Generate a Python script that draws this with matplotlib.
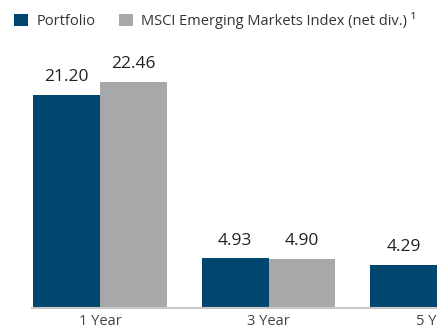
import numpy as np
import matplotlib
matplotlib.use("Agg")
import matplotlib.pyplot as plt
from matplotlib.patches import Patch

# ================> Data
periods = ["1 Year", "3 Year", "5 Year"]
portfolio = [21.20, 4.93, 4.29]
index_net = [22.46, 4.90, np.nan]  # 5 Year index value runs off the right edge

series_names = ["Portfolio", "MSCI Emerging Markets Index (net div.) \u00b9"]
colors = ["#00466F", "#A7A8AA"]

plt.rcParams["font.family"] = ["Open Sans", "DejaVu Sans"]

W, H = 437, 331
fig = plt.figure(figsize=(W / 100, H / 100), dpi=100)

# axes placed in pixels: baseline at y=308, left edge at x=32
left, right, bottom, top = 32, 437, 308, 50
ax = fig.add_axes([left / W, (H - bottom) / H, (right - left) / W, (bottom - top) / H])

x = np.arange(len(periods))
width = 0.396
for i, (vals, col) in enumerate(zip([portfolio, index_net], colors)):
    pos = x + (i - 0.5) * width
    ax.bar(pos, vals, width=width, color=col, align="center", linewidth=0)
    for p, v in zip(pos, vals):
        if np.isnan(v):
            continue
        ax.annotate(f"{v:.2f}", (p, v), xytext=(0, 10), textcoords="offset points",
                    ha="center", va="baseline", fontsize=12.5, color="#222222")

# group centres are 173 px apart, first one at x=102
ax.set_xlim((left - 102) / 173, (right - 102) / 173)
ax.set_ylim(0, (bottom - top) / 10.05)

ax.set_xticks(x)
ax.set_xticklabels(periods, fontsize=10.5, color="#444444")
ax.tick_params(axis="x", length=0, pad=4)
ax.set_yticks([])
for s in ["top", "right", "left"]:
    ax.spines[s].set_visible(False)
ax.spines["bottom"].set_color("#C8C8C8")
ax.spines["bottom"].set_linewidth(1.5)
ax.set_facecolor("none")

handles = [Patch(facecolor=c, edgecolor="none") for c in colors]
fig.legend(handles, series_names, loc="upper left", bbox_to_anchor=(8 / W, 1 - 6 / H),
           ncol=2, frameon=False, fontsize=10.5, handlelength=0.95, handleheight=0.95,
           handletextpad=0.6, columnspacing=1.6, borderaxespad=0, labelcolor="#333333")

fig.savefig("out.png", dpi=100)
